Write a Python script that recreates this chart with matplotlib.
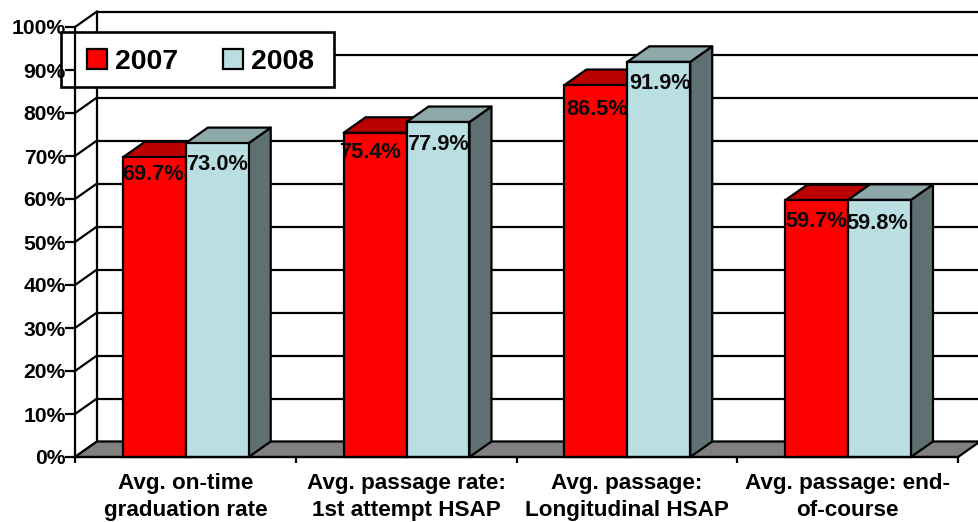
import matplotlib
matplotlib.use("Agg")
import matplotlib.pyplot as plt
from matplotlib.patches import Patch, Polygon, Rectangle

plt.rcParams["font.family"] = ["Liberation Sans", "DejaVu Sans"]
plt.rcParams["font.weight"] = "bold"

categories = [
    "Avg. on-time\ngraduation rate",
    "Avg. passage rate:\n1st attempt HSAP",
    "Avg. passage:\nLongitudinal HSAP",
    "Avg. passage: end-\nof-course",
]
series_names = ["2007", "2008"]
values_2007 = [69.7, 75.4, 86.5, 59.7]
values_2008 = [73.0, 77.9, 91.9, 59.8]
y_ticks = list(range(0, 101, 10))

# hand placement of the value labels, in pixels (right, down)
nudge_2007 = [(-1, -2), (-5, 1), (1, 6), (0, 2)]
nudge_2008 = [(0, 3), (0, 4), (1, 3), (-2, 5)]

W, H = 979, 522
LEFT, RIGHT, BOTTOM, TOP = 75, 958, 457, 27
BAR_W = 0.285
BAR_INSET = 0.217
DEPTH_X = 22 / (RIGHT - LEFT) * 4      # receding offset in category units
DEPTH_Y = 15.5 / (BOTTOM - TOP) * 100  # receding offset in percent units
LW = 1.6
PX = 0.72  # points per pixel at 100 dpi

COLORS = {
    "2007": ("#ff0000", "#bb0000", "#800000"),
    "2008": ("#b9dfe3", "#8fa8aa", "#5f7073"),
}

fig = plt.figure(figsize=(W / 100, H / 100), dpi=100, facecolor="white")
ax = fig.add_axes([LEFT / W, 1 - BOTTOM / H, (RIGHT - LEFT) / W, (BOTTOM - TOP) / H])
ax.set_xlim(0, 4)
ax.set_ylim(0, 100)
ax.patch.set_visible(False)


def poly(points, fc, z):
    ax.add_patch(Polygon(points, closed=True, facecolor=fc, edgecolor="black",
                         linewidth=LW, clip_on=False, zorder=z, joinstyle="round"))


# floor of the 3D box
poly([(0, 0), (4, 0), (4 + DEPTH_X, DEPTH_Y), (DEPTH_X, DEPTH_Y)], "#808080", 1.5)

# back wall gridlines and their returns along the left wall
for v in y_ticks:
    ax.plot([DEPTH_X, 4 + DEPTH_X + 0.2], [v + DEPTH_Y] * 2, color="black", lw=LW,
            clip_on=False, zorder=1, solid_capstyle="butt")
    ax.plot([0, DEPTH_X], [v, v + DEPTH_Y], color="black", lw=LW,
            clip_on=False, zorder=1)
ax.plot([DEPTH_X, DEPTH_X], [DEPTH_Y, 100 + DEPTH_Y], color="black", lw=LW,
        clip_on=False, zorder=1)


def bar3d(x, v, name, z, nudge):
    front, top, side = COLORS[name]
    poly([(x + BAR_W, 0), (x + BAR_W + DEPTH_X, DEPTH_Y),
          (x + BAR_W + DEPTH_X, v + DEPTH_Y), (x + BAR_W, v)], side, z)
    poly([(x, v), (x + BAR_W, v), (x + BAR_W + DEPTH_X, v + DEPTH_Y),
          (x + DEPTH_X, v + DEPTH_Y)], top, z)
    ax.bar(x, v, BAR_W, align="edge", color=front, edgecolor="black", linewidth=LW,
           zorder=z + 0.01, clip_on=False)
    ax.annotate(f"{v:.1f}%", (x + BAR_W / 2, v),
                xytext=(nudge[0] * PX, -13.5 - nudge[1] * PX),
                textcoords="offset points", ha="center", va="center",
                fontsize=15.7, color="#0a0a0a", zorder=z + 0.02,
                annotation_clip=False)


for i, (a, b) in enumerate(zip(values_2007, values_2008)):
    bar3d(i + BAR_INSET, a, series_names[0], 3 + i * 0.1, nudge_2007[i])
    bar3d(i + BAR_INSET + BAR_W, b, series_names[1], 3.03 + i * 0.1, nudge_2008[i])

# axes: only the front-left and front-bottom edges are drawn
for s in ("top", "right"):
    ax.spines[s].set_visible(False)
for s in ("left", "bottom"):
    ax.spines[s].set_linewidth(LW)
    ax.spines[s].set_zorder(6)
ax.xaxis.set_zorder(6)
ax.yaxis.set_zorder(6)

ax.set_yticks(y_ticks, [f"{v}%" for v in y_ticks], fontsize=15.2)
ax.tick_params(axis="y", length=7, width=LW, pad=-0.5)
ax.set_xticks(range(5), [""] * 5)
ax.tick_params(axis="x", which="major", length=4.5, width=LW)
ax.set_xticks([i + 0.5 for i in range(4)], categories, minor=True)
ax.tick_params(axis="x", which="minor", length=0, pad=11.5, labelsize=16.2)
for lab in ax.get_xticklabels(minor=True):
    lab.set_linespacing(1.4)
    lab.set_va("top")

# legend box, sized separately because its side margins exceed the top and bottom ones
ax.add_patch(Rectangle((61 / W, 1 - 87 / H), 273 / W, 55 / H, transform=fig.transFigure,
                       facecolor="white", edgecolor="black", linewidth=LW + 0.3,
                       clip_on=False, zorder=4.9))
handles = [Patch(facecolor=COLORS[n][0], edgecolor="black", linewidth=LW, label=n)
           for n in series_names]
leg = ax.legend(handles=handles, ncol=2, loc="upper left",
                bbox_to_anchor=(87 / W, 1 - 49 / H), bbox_transform=fig.transFigure,
                borderaxespad=0, prop={"size": 20.4, "weight": "bold"},
                handlelength=0.72, handleheight=0.72, handletextpad=0.27,
                columnspacing=1.58, borderpad=0, frameon=False)
leg.set_zorder(5)

fig.savefig("out.png", dpi=100, facecolor="white")
